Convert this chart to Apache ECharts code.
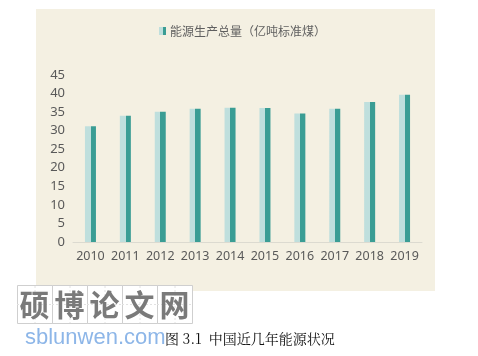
<!DOCTYPE html>
<html>
<head>
<meta charset="utf-8">
<script src="https://cdn.jsdelivr.net/npm/echarts@6/dist/echarts.min.js"></script>
<style>
html,body{margin:0;padding:0;background:#fff;}
#main{width:478px;height:356px;}
</style>
</head>
<body>
<div id="main"></div>
<script>
const years = ['2010','2011','2012','2013','2014','2015','2016','2017','2018','2019'];
const production = [31.2, 34.0, 35.1, 35.9, 36.2, 36.1, 34.6, 35.9, 37.7, 39.7];
const seriesName = '能源生产总量（亿吨标准煤）';
const watermarkChars = ['硕','博','论','文','网'];
const watermarkUrl = 'sblunwen.com';
const caption = '图 3.1  中国近几年能源状况';

const chart = echarts.init(document.getElementById('main'), null, {renderer:'canvas'});

const barColor = new echarts.graphic.LinearGradient(0,0,1,0,[
  {offset:0,color:'#bfdfdd'},{offset:0.52,color:'#bfdfdd'},
  {offset:0.52,color:'#3a9d94'},{offset:1,color:'#3a9d94'}
]);

const graphics = [
  {type:'rect', z:-10, shape:{x:36,y:9,width:399,height:282}, style:{fill:'#f4f0e2'}, silent:true},
  {type:'rect', z:100, shape:{x:17,y:285,width:175,height:38}, style:{fill:'#ffffff'}, silent:true}
];
watermarkChars.forEach((c,i)=>{
  const x0 = 17 + i*35;
  graphics.push({type:'rect', z:101, shape:{x:x0+0.5,y:285.5,width:35,height:38}, style:{fill:'none',stroke:'#cfcfcf',lineWidth:1}, silent:true});
  graphics.push({type:'line', z:101, shape:{x1:x0+18,y1:286,x2:x0+18,y2:323}, style:{stroke:'#e2e2e2',lineWidth:1,lineDash:[2,2]}, silent:true});
  graphics.push({type:'line', z:101, shape:{x1:x0,y1:304.5,x2:x0+35,y2:304.5}, style:{stroke:'#e2e2e2',lineWidth:1,lineDash:[2,2]}, silent:true});
  graphics.push({type:'text', z:102, style:{text:c, x:x0+17.5, y:305, textAlign:'center', textVerticalAlign:'middle', font:'bold 30px "Noto Sans CJK SC"', fill:'#7a7a7a'}, silent:true});
});
graphics.push({type:'text', z:102, style:{text:watermarkUrl, x:25, y:338, textVerticalAlign:'middle', font:'22px "Liberation Sans"', fill:'#8db6e8'}, silent:true});
graphics.push({type:'text', z:103, style:{text:caption, x:165, y:339, textVerticalAlign:'middle', font:'14px "Noto Serif CJK SC", "Noto Sans CJK SC", serif', fill:'#111111'}, silent:true});

chart.setOption({
  animation:false,
  backgroundColor:'#ffffff',
  graphic: graphics,
  legend:{
    data:[seriesName],
    left:154, top:20,
    itemWidth:7, itemHeight:8, itemGap:10,
    textStyle:{color:'#5f5f5f', fontSize:12, fontFamily:'"Noto Sans CJK SC"', padding:[0,0,0,-1]},
    icon:'rect'
  },
  grid:{left:73, right:56, top:75, bottom:114, containLabel:false},
  xAxis:{
    type:'category', data:years,
    axisLine:{lineStyle:{color:'#dcdad0', width:1}},
    axisTick:{show:false},
    axisLabel:{color:'#595959', fontSize:12.5, fontFamily:'"Noto Sans"', margin:8, interval:0, hideOverlap:false}
  },
  yAxis:{
    type:'value', min:0, max:45, interval:5,
    axisLine:{show:false}, axisTick:{show:false},
    splitLine:{show:false},
    axisLabel:{color:'#595959', fontSize:13, fontFamily:'"Noto Sans"', margin:8}
  },
  series:[{
    name:seriesName, type:'bar', data:production, barWidth:11,
    itemStyle:{color:barColor}
  }]
});
</script>
</body>
</html>
